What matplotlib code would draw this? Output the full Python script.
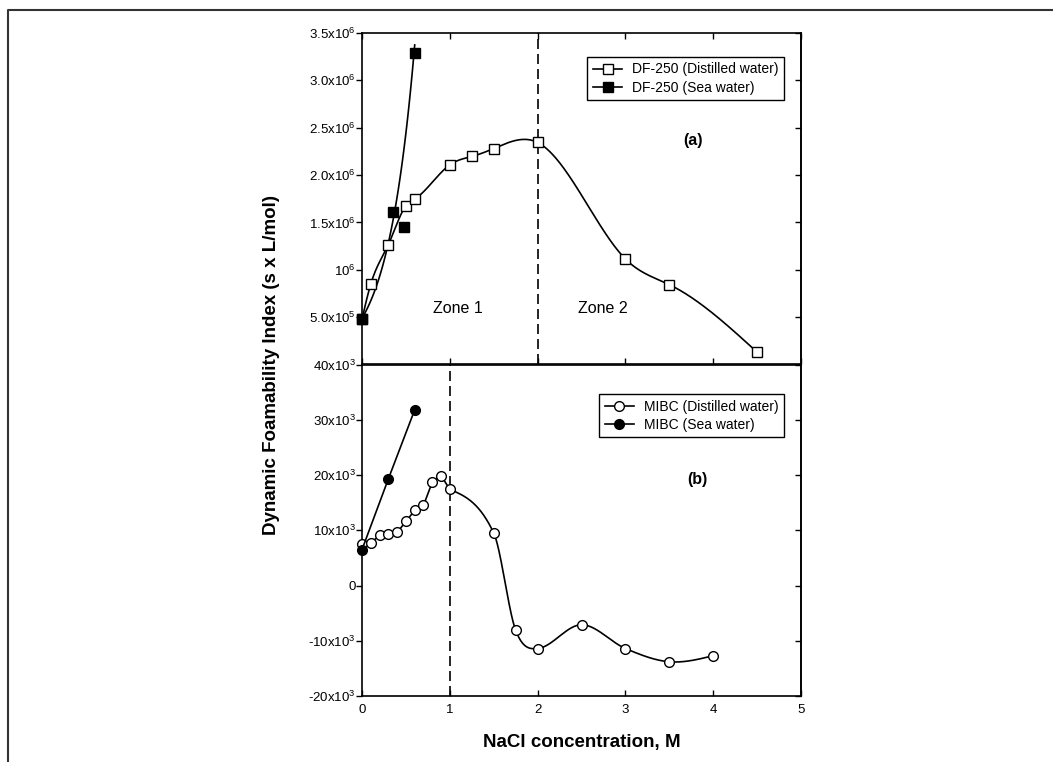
#Dynamic foamability index vs NaCl concentration for DF-250 and MIBC
import numpy as np
import matplotlib
matplotlib.use("Agg")
import matplotlib.pyplot as plt
from matplotlib.lines import Line2D

plt.rcParams['font.family'] = ['Liberation Sans', 'DejaVu Sans']
plt.rcParams['mathtext.fontset'] = 'custom'
plt.rcParams['mathtext.rm'] = 'Liberation Sans'

# DF-250, distilled water
x_df_dist = [0.0, 0.1, 0.3, 0.5, 0.6, 1.0, 1.25, 1.5, 2.0, 3.0, 3.5, 4.5]
y_df_dist = [0.48e6, 0.85e6, 1.265e6, 1.676e6, 1.747e6, 2.108e6, 2.196e6, 2.28e6, 2.344e6, 1.114e6, 0.843e6, 0.13e6]
# DF-250, sea water (the point at 0.48 M is left out of the fitted curve)
x_df_sea = [0.0, 0.357, 0.48, 0.6]
y_df_sea = [0.48e6, 1.606e6, 1.45e6, 3.293e6]
df_sea_fit = [0, 1, 3]

# MIBC, distilled water
x_mibc_dist = [0.0, 0.1, 0.2, 0.3, 0.4, 0.5, 0.6, 0.7, 0.8, 0.9, 1.0, 1.5, 1.75, 2.0, 2.5, 3.0, 3.5, 4.0]
y_mibc_dist = [7.55e3, 7.7e3, 9.1e3, 9.4e3, 9.6e3, 11.6e3, 13.6e3, 14.5e3, 18.7e3, 19.9e3, 17.4e3,
               9.5e3, -8.1e3, -11.4e3, -7.1e3, -11.4e3, -13.8e3, -12.7e3]
# MIBC, sea water
x_mibc_sea = [0.0, 0.3, 0.6]
y_mibc_sea = [6.5e3, 19.3e3, 31.8e3]

top_ticks = [5e5, 1e6, 1.5e6, 2e6, 2.5e6, 3e6, 3.5e6]
top_labels = ['5.0x10^{5}', '10^{6}', '1.5x10^{6}', '2.0x10^{6}', '2.5x10^{6}', '3.0x10^{6}', '3.5x10^{6}']
bot_ticks = [-20e3, -10e3, 0, 10e3, 20e3, 30e3, 40e3]
bot_labels = ['-20x10^{3}', '-10x10^{3}', '0', '10x10^{3}', '20x10^{3}', '30x10^{3}', '40x10^{3}']


def natural_spline(x, y, xs):
    x = np.asarray(x, float); y = np.asarray(y, float)
    n = len(x); h = np.diff(x)
    A = np.zeros((n, n)); r = np.zeros(n)
    A[0, 0] = A[-1, -1] = 1.0
    for i in range(1, n - 1):
        A[i, i - 1] = h[i - 1]
        A[i, i] = 2 * (h[i - 1] + h[i])
        A[i, i + 1] = h[i]
        r[i] = 3 * ((y[i + 1] - y[i]) / h[i] - (y[i] - y[i - 1]) / h[i - 1])
    c = np.linalg.solve(A, r)
    b = (y[1:] - y[:-1]) / h - h * (2 * c[:-1] + c[1:]) / 3
    d = (c[1:] - c[:-1]) / (3 * h)
    idx = np.clip(np.searchsorted(x, xs) - 1, 0, n - 2)
    dx = xs - x[idx]
    return y[idx] + b[idx] * dx + c[idx] * dx ** 2 + d[idx] * dx ** 3


def cardinal_spline(x, y, xs):
    # cubic Hermite curve, slopes from the neighbouring points
    x = np.asarray(x, float); y = np.asarray(y, float)
    n = len(x); h = np.diff(x); chord = np.diff(y) / h
    m = np.zeros(n)
    m[1:-1] = (y[2:] - y[:-2]) / (x[2:] - x[:-2])
    m[0] = (3 * chord[0] - m[1]) / 2
    m[-1] = (3 * chord[-1] - m[-2]) / 2
    idx = np.clip(np.searchsorted(x, xs) - 1, 0, n - 2)
    t = (xs - x[idx]) / h[idx]
    h00 = 2 * t ** 3 - 3 * t ** 2 + 1
    h10 = t ** 3 - 2 * t ** 2 + t
    h01 = -2 * t ** 3 + 3 * t ** 2
    h11 = t ** 3 - t ** 2
    return h00 * y[idx] + h10 * h[idx] * m[idx] + h01 * y[idx + 1] + h11 * h[idx] * m[idx + 1]


def mtext(s):
    # keep a plain hyphen for negative labels
    if s == '0':
        return s
    if s.startswith('-'):
        return '-' + r'$\mathregular{' + s[1:] + '}$'
    return r'$\mathregular{' + s + '}$'


fig = plt.figure(figsize=(10.53, 7.62), dpi=100)
ax1 = fig.add_axes([0.3438, 0.5217, 0.4169, 0.435])
ax2 = fig.add_axes([0.3438, 0.0866, 0.4169, 0.435])

lw = 1.2
ms = 7

# top panel: DF-250
xs = np.linspace(0, 4.5, 500)
ax1.plot(xs, natural_spline(x_df_dist, y_df_dist, xs), color='black', lw=lw, zorder=2)
ax1.plot(x_df_dist, y_df_dist, ls='none', marker='s', ms=ms, mfc='white', mec='black', mew=1.0,
         zorder=3, clip_on=False)
p = np.polyfit([x_df_sea[i] for i in df_sea_fit], np.log([y_df_sea[i] for i in df_sea_fit]), 1)
xq = np.linspace(0, 0.6, 100)
ax1.plot(xq, np.exp(np.polyval(p, xq)), color='black', lw=lw, zorder=2)
ax1.plot(x_df_sea, y_df_sea, ls='none', marker='s', ms=ms, color='black', zorder=4, clip_on=False)
ax1.axvline(2.0, color='black', lw=lw, ls=(0, (6, 3)), zorder=1)

h1 = [Line2D([], [], color='black', lw=lw, marker='s', ms=ms, mfc='white', mec='black'),
      Line2D([], [], color='black', lw=lw, marker='s', ms=ms)]
leg = ax1.legend(h1, ['DF-250 (Distilled water)', 'DF-250 (Sea water)'], loc='upper right',
                 bbox_to_anchor=(0.961, 0.928), borderaxespad=0, fancybox=False, fontsize=10,
                 handlelength=2.1, handletextpad=0.7, labelspacing=0.3, edgecolor='black', framealpha=1)
leg.get_frame().set_linewidth(1.0)

ax1.text(1.09, 5.9e5, 'Zone 1', fontsize=11.5, ha='center', va='center')
ax1.text(2.745, 5.9e5, 'Zone 2', fontsize=11.5, ha='center', va='center')
ax1.text(3.77, 2.37e6, '(a)', fontsize=11.5, fontweight='bold', ha='center', va='center')

ax1.set_xlim(0, 5)
ax1.set_ylim(0, 3.5e6)
ax1.set_yticks(top_ticks)
ax1.set_yticklabels([mtext(s) for s in top_labels])
ax1.set_xticks([0, 1, 2, 3, 4, 5])
ax1.tick_params(axis='x', direction='in', top=True, bottom=True, labelbottom=False, length=4, width=1)

# bottom panel: MIBC, straight segments up to 1 M, smooth curve beyond
k0 = x_mibc_dist.index(1.0)
ax2.plot(x_mibc_dist[:k0 + 1], y_mibc_dist[:k0 + 1], color='black', lw=lw, zorder=2)
xs2 = np.linspace(1.0, 4.0, 600)
ax2.plot(xs2, cardinal_spline(x_mibc_dist[k0:], y_mibc_dist[k0:], xs2), color='black', lw=lw, zorder=2)
ax2.plot(x_mibc_dist, y_mibc_dist, ls='none', marker='o', ms=ms, mfc='white', mec='black', mew=1.0,
         zorder=3, clip_on=False)
ax2.plot(x_mibc_sea, y_mibc_sea, color='black', lw=lw, marker='o', ms=ms, zorder=4, clip_on=False)
ax2.axvline(1.0, color='black', lw=lw, ls=(0, (6, 3)), zorder=1)

h2 = [Line2D([], [], color='black', lw=lw, marker='o', ms=ms, mfc='white', mec='black'),
      Line2D([], [], color='black', lw=lw, marker='o', ms=ms)]
leg2 = ax2.legend(h2, ['MIBC (Distilled water)', 'MIBC (Sea water)'], loc='upper right',
                  bbox_to_anchor=(0.961, 0.911), borderaxespad=0, fancybox=False, fontsize=10,
                  handlelength=2.1, handletextpad=0.7, labelspacing=0.3, edgecolor='black', framealpha=1)
leg2.get_frame().set_linewidth(1.0)

ax2.text(3.82, 19.2e3, '(b)', fontsize=11.5, fontweight='bold', ha='center', va='center')

ax2.set_xlim(0, 5)
ax2.set_ylim(-20e3, 40e3)
ax2.set_yticks(bot_ticks)
ax2.set_yticklabels([mtext(s) for s in bot_labels])
ax2.set_xticks([0, 1, 2, 3, 4, 5])
ax2.tick_params(axis='x', direction='in', bottom=True, top=False, length=4, width=1, labelsize=9.5, pad=6)

for ax in (ax1, ax2):
    ax.tick_params(axis='y', direction='out', length=4, width=1, labelsize=9.5, pad=0.5)
    for s in ax.spines.values():
        s.set_linewidth(1.2)
    sec = ax.secondary_yaxis('right')
    sec.set_yticks(ax.get_yticks())
    sec.tick_params(direction='in', length=4, width=1, labelright=False)
    sec.spines['right'].set_linewidth(1.2)

fig.text(272 / 1053, 1 - 365 / 762, 'Dynamic Foamability Index (s x L/mol)', rotation=90,
         ha='center', va='center', fontsize=13.5, fontweight='bold')
fig.text(582 / 1053, 1 - 742 / 762, 'NaCl concentration, M', ha='center', va='center',
         fontsize=13.5, fontweight='bold')

# outer frame
fx = 8 / 1053
fy = 1 - 10 / 762
fig.add_artist(Line2D([fx, fx, 1.0], [0.0, fy, fy], transform=fig.transFigure, color='#333333', lw=1.5))

fig.savefig('out.png', dpi=100)
